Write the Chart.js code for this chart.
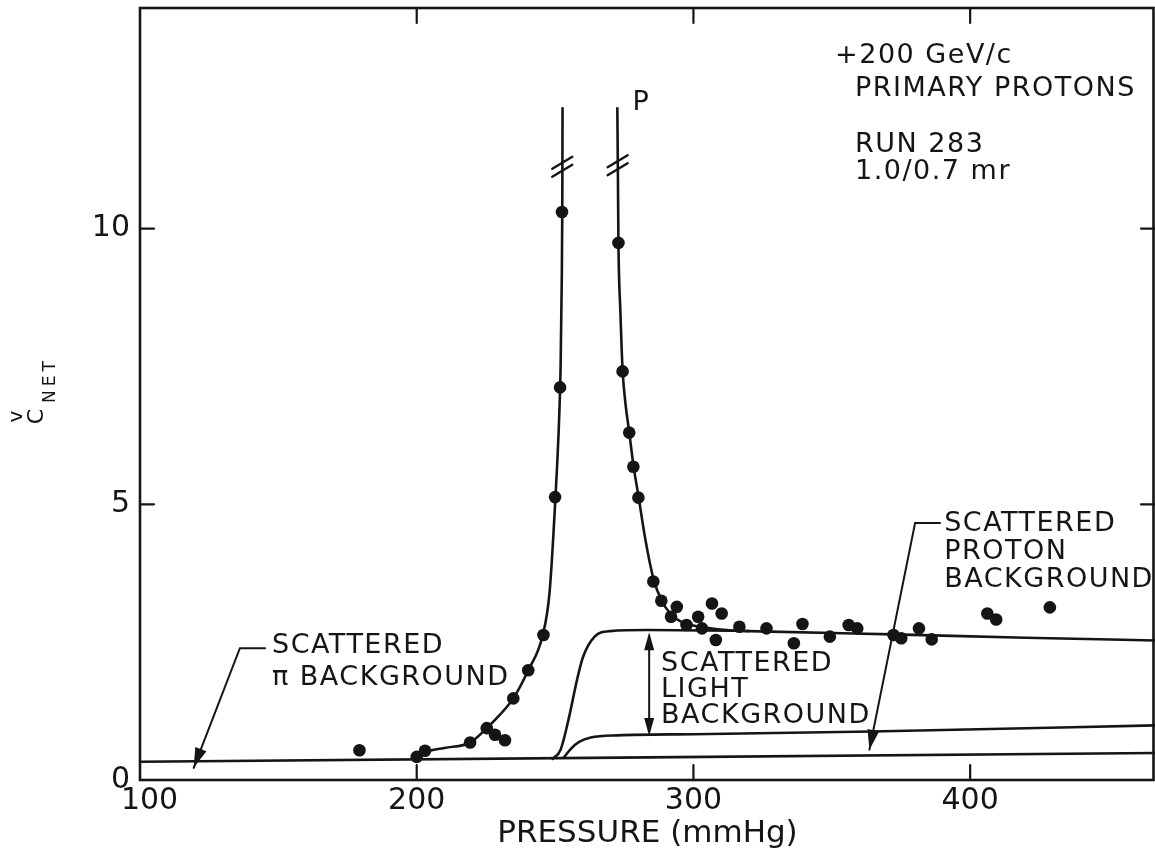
<!DOCTYPE html>
<html>
<head>
<meta charset="utf-8">
<script src="https://cdn.jsdelivr.net/npm/chart.js@4.4.1/dist/chart.umd.min.js"></script>
<style>
  html, body { margin: 0; padding: 0; background: #fff; }
  #wrap { width: 1155px; height: 861px; }
</style>
</head>
<body>
<div id="wrap"><canvas id="chart" width="1155" height="861"></canvas></div>
<script>
/* ====== DATA ====== */
const xTicks = [100, 200, 300, 400];
const yTicks = [0, 5, 10];

// measured points (pressure mmHg, C net)
const dotX = [179.3, 200.0, 203.0, 219.3, 225.3, 228.3, 231.9, 234.9, 240.3, 245.8, 250.0, 251.8, 252.5,
  272.9, 274.4, 276.8, 278.3, 280.1, 285.5, 288.4, 291.9, 294.0, 297.5, 301.7, 303.1, 306.7, 308.1, 310.2,
  316.6, 326.4, 336.3, 339.4, 349.3, 356.1, 359.2, 372.3, 375.1, 381.5, 386.1, 406.2, 409.4, 428.8];
const dotY = [0.54, 0.42, 0.53, 0.68, 0.94, 0.82, 0.72, 1.48, 1.99, 2.63, 5.13, 7.12, 10.3,
  9.74, 7.41, 6.3, 5.68, 5.12, 3.6, 3.25, 2.96, 3.14, 2.81, 2.96, 2.75, 3.2, 2.54, 3.02,
  2.78, 2.75, 2.48, 2.83, 2.6, 2.81, 2.75, 2.63, 2.57, 2.75, 2.55, 3.02, 2.91, 3.13];

// scattered pi background (straight baseline)
const piBgX = [100, 466.8];
const piBgY = [0.33, 0.49];

// pion peak (left branch)
const piPeakX = [200, 203, 210, 219.3, 225.3, 230, 234.9, 240.3, 245.5, 248, 250, 251.5, 252, 252.4, 252.6, 252.7];
const piPeakY = [0.38, 0.5, 0.58, 0.68, 0.94, 1.18, 1.48, 1.99, 2.62, 3.4, 5.0, 6.6, 7.5, 9.0, 10.3, 12.2];

// proton peak (right branch, merges into plateau)
const pPeakX = [272.5, 272.7, 272.9, 273.6, 274.4, 275.5, 276.8, 278.3, 280.1, 282.5, 285.5, 288.5, 292, 296, 300, 306, 312, 320];
const pPeakY = [12.2, 11.0, 9.74, 8.5, 7.43, 6.8, 6.31, 5.71, 5.16, 4.4, 3.66, 3.25, 3.0, 2.86, 2.8, 2.75, 2.72, 2.7];

// scattered light background plateau
const lightX = [248.8, 252, 255.1, 257.9, 260.1, 264.3, 270, 283.4, 320, 372, 420, 466.8];
const lightY = [0.37, 0.55, 1.15, 1.81, 2.23, 2.6, 2.7, 2.72, 2.7, 2.64, 2.58, 2.53];

// scattered proton background
const protonBgX = [253, 255.8, 258.7, 262.9, 272.7, 300, 364.5, 466.8];
const protonBgY = [0.40, 0.57, 0.69, 0.77, 0.81, 0.83, 0.88, 0.99];

const INK = '#151515';
const FONT = '"DejaVu Sans", sans-serif';

function pts(xs, ys) { return xs.map((x, i) => ({ x: x, y: ys[i] })); }

function curve(xs, ys) {
  return {
    type: 'line', data: pts(xs, ys), showLine: true, fill: false,
    borderColor: INK, borderWidth: 2.6, pointRadius: 0,
    cubicInterpolationMode: 'monotone'
  };
}

/* ====== ANNOTATION PLUGIN ====== */
function arrowHead(ctx, x0, y0, x1, y1, len, half) {
  const a = Math.atan2(y1 - y0, x1 - x0);
  ctx.beginPath();
  ctx.moveTo(x1, y1);
  ctx.lineTo(x1 - len * Math.cos(a) + half * Math.sin(a), y1 - len * Math.sin(a) - half * Math.cos(a));
  ctx.lineTo(x1 - len * Math.cos(a) - half * Math.sin(a), y1 - len * Math.sin(a) + half * Math.cos(a));
  ctx.closePath();
  ctx.fill();
}

const decor = {
  id: 'decor',
  beforeDraw(chart) {
    const ctx = chart.ctx;
    ctx.save();
    ctx.fillStyle = '#fff';
    ctx.fillRect(0, 0, chart.width, chart.height);
    ctx.restore();
  },
  afterDraw(chart) {
    const ctx = chart.ctx;
    const xs = chart.scales.x, ys = chart.scales.y;
    const X = v => xs.getPixelForValue(v);
    const Y = v => ys.getPixelForValue(v);
    const a = chart.chartArea;
    ctx.save();
    ctx.strokeStyle = INK;
    ctx.fillStyle = INK;
    ctx.lineCap = 'round';

    // frame
    ctx.lineWidth = 2.6;
    ctx.strokeRect(a.left, a.top, a.right - 1.5 - a.left, a.bottom - a.top);

    // inward ticks on all four sides
    ctx.lineWidth = 2.2;
    ctx.beginPath();
    xTicks.forEach(v => {
      if (v === xTicks[0]) return;
      ctx.moveTo(X(v), a.bottom); ctx.lineTo(X(v), a.bottom - 15);
      ctx.moveTo(X(v), a.top); ctx.lineTo(X(v), a.top + 15);
    });
    yTicks.forEach(v => {
      if (v === 0) return;
      ctx.moveTo(a.left, Y(v)); ctx.lineTo(a.left + 14, Y(v));
      ctx.moveTo(a.right, Y(v)); ctx.lineTo(a.right - 14, Y(v));
    });
    ctx.stroke();

    // break marks on the two peaks
    ctx.lineWidth = 2.4;
    [[252.6, 11.12], [272.6, 11.15]].forEach(([bx, by]) => {
      const cx = X(bx), cy = Y(by);
      ctx.beginPath();
      [-4, 4].forEach(o => {
        ctx.moveTo(cx - 10, cy + o + 6);
        ctx.lineTo(cx + 10, cy + o - 6);
      });
      ctx.stroke();
    });

    // texts
    ctx.textBaseline = 'middle';
    ctx.textAlign = 'left';
    ctx.font = '27px ' + FONT;
    ctx.letterSpacing = '1.5px';
    const txt = (s, x, y) => ctx.fillText(s, X(x), Y(y));

    txt('+200 GeV/c', 351.2, 13.13);
    txt('PRIMARY PROTONS', 358.4, 12.53);
    txt('RUN 283', 358.4, 11.52);
    txt('1.0/0.7 mr', 358.4, 11.02);

    txt('P', 278.0, 12.28);

    txt('SCATTERED', 147.7, 2.43);
    txt('\u03c0 BACKGROUND', 147.7, 1.85);

    txt('SCATTERED', 288.3, 2.1);
    txt('LIGHT', 288.3, 1.63);
    txt('BACKGROUND', 288.3, 1.16);

    txt('SCATTERED', 390.6, 4.64);
    txt('PROTON', 390.6, 4.13);
    txt('BACKGROUND', 390.6, 3.62);

    // leader arrows
    ctx.lineWidth = 2;
    ctx.beginPath();
    ctx.moveTo(X(145.2), Y(2.39)); ctx.lineTo(X(136.1), Y(2.39)); ctx.lineTo(X(119.4), Y(0.22));
    ctx.stroke();
    arrowHead(ctx, X(136.1), Y(2.39), X(119.4), Y(0.22), 20, 6);

    ctx.beginPath();
    ctx.moveTo(X(389.1), Y(4.66)); ctx.lineTo(X(380.1), Y(4.66)); ctx.lineTo(X(363.6), Y(0.55));
    ctx.stroke();
    arrowHead(ctx, X(380.1), Y(4.66), X(363.6), Y(0.55), 20, 6);

    // scattered light double arrow
    const dx = X(284.0), dTop = Y(2.68), dBot = Y(0.8);
    ctx.beginPath();
    ctx.moveTo(dx, dTop + 4); ctx.lineTo(dx, dBot - 4);
    ctx.stroke();
    arrowHead(ctx, dx, dBot, dx, dTop, 18, 5);
    arrowHead(ctx, dx, dTop, dx, dBot, 18, 5);

    // y axis title: C (with check mark) NET, rotated
    ctx.letterSpacing = '0px';
    ctx.translate(43, Y(6.45));
    ctx.rotate(-Math.PI / 2);
    ctx.textBaseline = 'alphabetic';
    ctx.font = '22px ' + FONT;
    ctx.fillText('C', 0, 0);
    const cw = ctx.measureText('C').width;
    ctx.font = '20px ' + FONT;
    ctx.textAlign = 'center';
    ctx.fillText('v', cw / 2, -21);
    ctx.textAlign = 'left';
    ctx.font = '17px ' + FONT;
    ctx.letterSpacing = '4px';
    ctx.fillText('NET', cw + 6, 12);
    ctx.restore();
  }
};

/* ====== CHART ====== */
const ctx = document.getElementById('chart').getContext('2d');
new Chart(ctx, {
  type: 'scatter',
  data: {
    datasets: [
      curve(piBgX, piBgY),
      curve(piPeakX, piPeakY),
      curve(pPeakX, pPeakY),
      curve(lightX, lightY),
      curve(protonBgX, protonBgY),
      {
        data: pts(dotX, dotY),
        pointRadius: 6.3, pointBackgroundColor: INK, pointBorderWidth: 0,
        showLine: false
      }
    ]
  },
  options: {
    responsive: false,
    animation: false,
    layout: { autoPadding: false, padding: { top: 8, left: 0, right: 0, bottom: 0 } },
    plugins: { legend: { display: false }, tooltip: { enabled: false } },
    scales: {
      x: {
        type: 'linear', min: 100, max: 466.8,
        afterBuildTicks: s => { s.ticks = xTicks.map(v => ({ value: v })); },
        afterFit: s => { s.height = 81; s.paddingLeft = 0; s.paddingRight = 0; },
        grid: { display: false, drawTicks: false },
        border: { display: false },
        ticks: {
          color: INK, padding: 3, maxRotation: 0, font: { family: FONT, size: 30 },
          // first label sits a little right of its tick, clear of the "0"
          callback: v => (v === xTicks[0] ? '  ' + v : String(v))
        },
        title: {
          display: true, text: 'PRESSURE (mmHg)', color: INK,
          font: { family: FONT, size: 31 }, padding: { top: 0, bottom: 8 }
        }
      },
      y: {
        type: 'linear', min: 0, max: 14,
        afterBuildTicks: s => { s.ticks = yTicks.map(v => ({ value: v })); },
        afterFit: s => { s.width = 140; s.paddingTop = 0; s.paddingBottom = 0; },
        grid: { display: false, drawTicks: false },
        border: { display: false },
        ticks: { color: INK, padding: 10, font: { family: FONT, size: 30 } }
      }
    }
  },
  plugins: [decor]
});
</script>
</body>
</html>
